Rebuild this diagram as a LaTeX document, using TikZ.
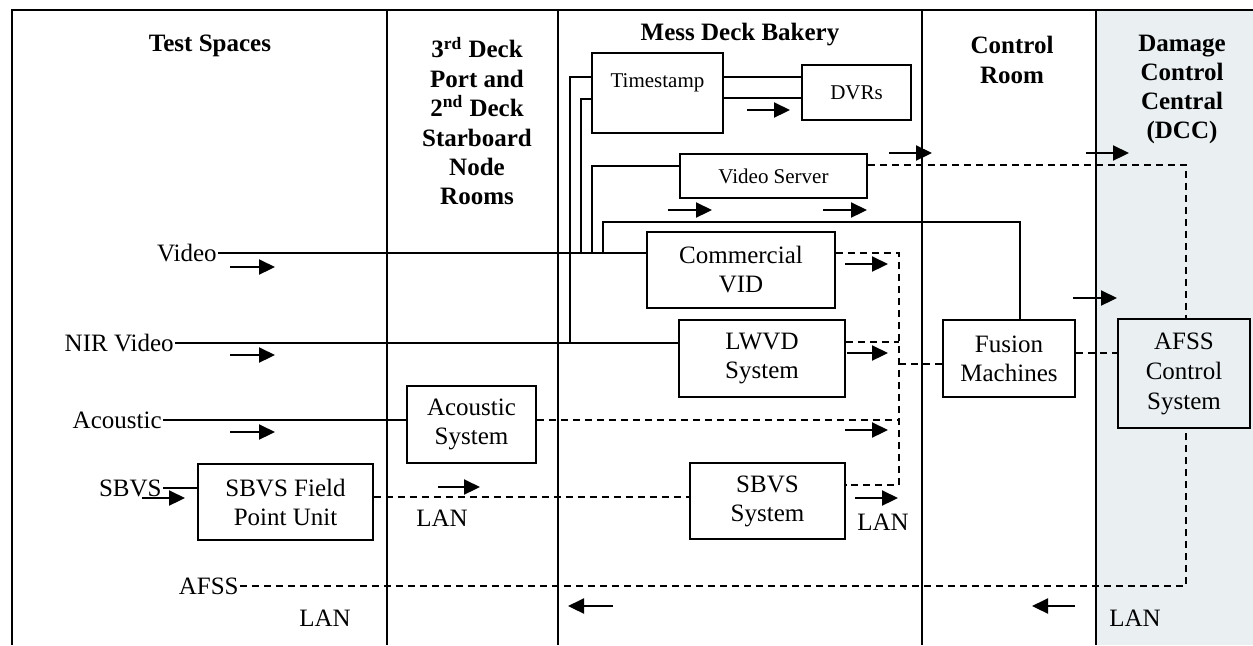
\documentclass[tikz,border=0pt]{standalone}
\usepackage{fontspec}
\setmainfont{Liberation Serif}
\usetikzlibrary{arrows.meta,calc}
\newcommand\lblfont{\fontsize{12.5}{14.5}\selectfont}
\newcommand\smallfont{\fontsize{10.5}{12}\selectfont}
\newcommand\ttlfont{\fontsize{12.5}{15}\selectfont\bfseries}
\definecolor{dccbg}{RGB}{234,239,242}
\begin{document}
\begin{tikzpicture}[x=0.5pt,y=-0.5pt,
  frame/.style={line width=1pt},
  divider/.style={line width=0.75pt},
  wire/.style={line width=0.8pt},
  lanline/.style={line width=0.9pt, dash pattern=on 3.5pt off 2.5pt},
  flow/.style={line width=1.1pt, -{Triangle[length=8pt,width=7.5pt]}},
  box/.style={draw, line width=0.9pt, inner sep=1pt, align=center, font=\lblfont},
  txt/.style={font=\lblfont, inner sep=0.5pt},
  ttl/.style={font=\ttlfont, align=center, inner sep=0pt}]
\useasboundingbox (0,0) rectangle (1253,645);
\fill[dccbg] (1097,10) rectangle (1253,645);
% frame and dividers
\draw[frame] (12,645) -- (12,10) -- (1253,10);
\foreach \xx in {387,558,922,1096} \draw[divider] (\xx,10) -- (\xx,645);
% titles
\node[ttl] (t1) at (210,46) {Test Spaces};
\node[ttl, font=\fontsize{12.5}{14.7}\selectfont\bfseries] (t2) at (477,121) {3\textsuperscript{rd} Deck\\Port and\\2\textsuperscript{nd} Deck\\Starboard\\Node\\Rooms};
\node[ttl] (t3) at (740,35) {Mess Deck Bakery};
\node[ttl] (t4) at (1012,60) {Control\\Room};
\node[ttl, font=\fontsize{12.5}{14.5}\selectfont\bfseries] (t5) at (1182,89) {Damage\\Control\\Central\\(DCC)};
% boxes
\node[box, minimum width=65.5pt, minimum height=40pt,
  label={[anchor=north, font=\smallfont, yshift=-7pt]north:Timestamp}] (ts) at (657.5,93) {};
\node[box, font=\smallfont, minimum width=54.5pt, minimum height=27.5pt] (dvr) at (856.5,92.5) {DVRs};
\node[box, font=\smallfont, minimum width=93.5pt, minimum height=22pt] (vs) at (773.5,176) {Video Server};
\node[box, minimum width=94pt, minimum height=38pt] (cvid) at (741,270) {Commercial\\VID};
\node[box, minimum width=83pt, minimum height=38.5pt] (lwvd) at (762,358.5) {LWVD\\System};
\node[box, minimum width=66pt, minimum height=38.5pt] (fus) at (1009,358.5) {Fusion\\Machines};
\node[box, minimum width=66pt, minimum height=54.5pt, font=\fontsize{12.5}{15}\selectfont] (afss) at (1184,373.5) {AFSS\\Control\\System};
\node[box, minimum width=64.5pt, minimum height=38.5pt] (acs) at (471.5,424.5) {Acoustic\\System};
\node[box, minimum width=87.5pt, minimum height=38pt] (fpu) at (285.5,502) {SBVS Field\\Point Unit};
\node[box, minimum width=77.5pt, minimum height=38pt] (sbs) at (767.5,501) {SBVS\\System};
% side labels
\node[txt, anchor=east] (vidl) at (218,253) {Video};
\node[txt, anchor=east] (nirl) at (175,343) {NIR Video};
\node[txt, anchor=east] (acl) at (163,420) {Acoustic};
\node[txt, anchor=east] (sbl) at (163,488) {SBVS};
\node[txt, anchor=east] (afl) at (240,586) {AFSS};
\node[txt] (lan1) at (325,618) {LAN};
\node[txt] (lan2) at (442,518) {LAN};
\node[txt] (lan3) at (883,522) {LAN};
\node[txt] (lan4) at (1135,618) {LAN};
% junction coordinates
\coordinate (j1) at (570,343);
\coordinate (j2) at (581,253);
\coordinate (j3) at (592,253);
\coordinate (j4) at (603,253);
\coordinate (ftop) at (1020,222);
\coordinate (busb) at (899,485);
% solid wires
\draw[wire] (vidl.east) -- (vidl.east -| cvid.west);
\draw[wire] (nirl.east) -- (nirl.east -| lwvd.west);
\draw[wire] (acl.east) -- (acl.east -| acs.west);
\draw[wire] (sbl.east) -- (sbl.east -| fpu.west);
\draw[wire] (j1) |- ([yshift=8pt]ts.west);
\draw[wire] (j2) |- ([yshift=-3pt]ts.west);
\draw[wire] (j3) |- ([yshift=5pt]vs.west);
\draw[wire] (j4) |- (ftop) -- (ftop |- fus.north);
\draw[wire] ([yshift=8pt]ts.east) -- ([yshift=8pt]ts.east -| dvr.west);
\draw[wire] ([yshift=-2.5pt]ts.east) -- ([yshift=-2.5pt]ts.east -| dvr.west);
% LAN (dashed) links
\draw[lanline] ([yshift=2.5pt]fpu.east) -- ([yshift=2.5pt]fpu.east -| sbs.west);
\draw[lanline] ([yshift=5.5pt]vs.east) -| ([xshift=1pt]afss.north);
\draw[lanline] (afl.east) -| ([xshift=1pt]afss.south);
\draw[lanline] ([yshift=8.5pt]cvid.east) -| (busb) -- (busb -| sbs.east);
\draw[lanline] ([yshift=8.25pt]lwvd.east) -- ([yshift=8.25pt]lwvd.east -| busb);
\draw[lanline] ([yshift=2.25pt]acs.east) -- ([yshift=2.25pt]acs.east -| busb);
\draw[lanline] ([yshift=-2.75pt]fus.west -| busb) -- ([yshift=-2.75pt]fus.west);
\draw[lanline] ([yshift=2.75pt]fus.east) -- ([yshift=2.75pt]fus.east -| afss.west);
% direction arrows
\draw[flow] (230,267) -- (275,267);
\draw[flow] (230,355) -- (275,355);
\draw[flow] (230,432) -- (275,432);
\draw[flow] (142,498) -- (185,498);
\draw[flow] (438,487) -- (480,487);
\draw[flow] (747,110) -- (790,110);
\draw[flow] (668,210) -- (712,210);
\draw[flow] (823,210) -- (867,210);
\draw[flow] (889,153) -- (932,153);
\draw[flow] (1086,153) -- (1129,153);
\draw[flow] (845,264) -- (888,264);
\draw[flow] (847,353) -- (888,353);
\draw[flow] (845,430) -- (888,430);
\draw[flow] (855,498) -- (898,498);
\draw[flow] (1073,298) -- (1117,298);
\draw[flow] (613,606) -- (568,606);
\draw[flow] (1075,606) -- (1032,606);
\end{tikzpicture}
\end{document}
